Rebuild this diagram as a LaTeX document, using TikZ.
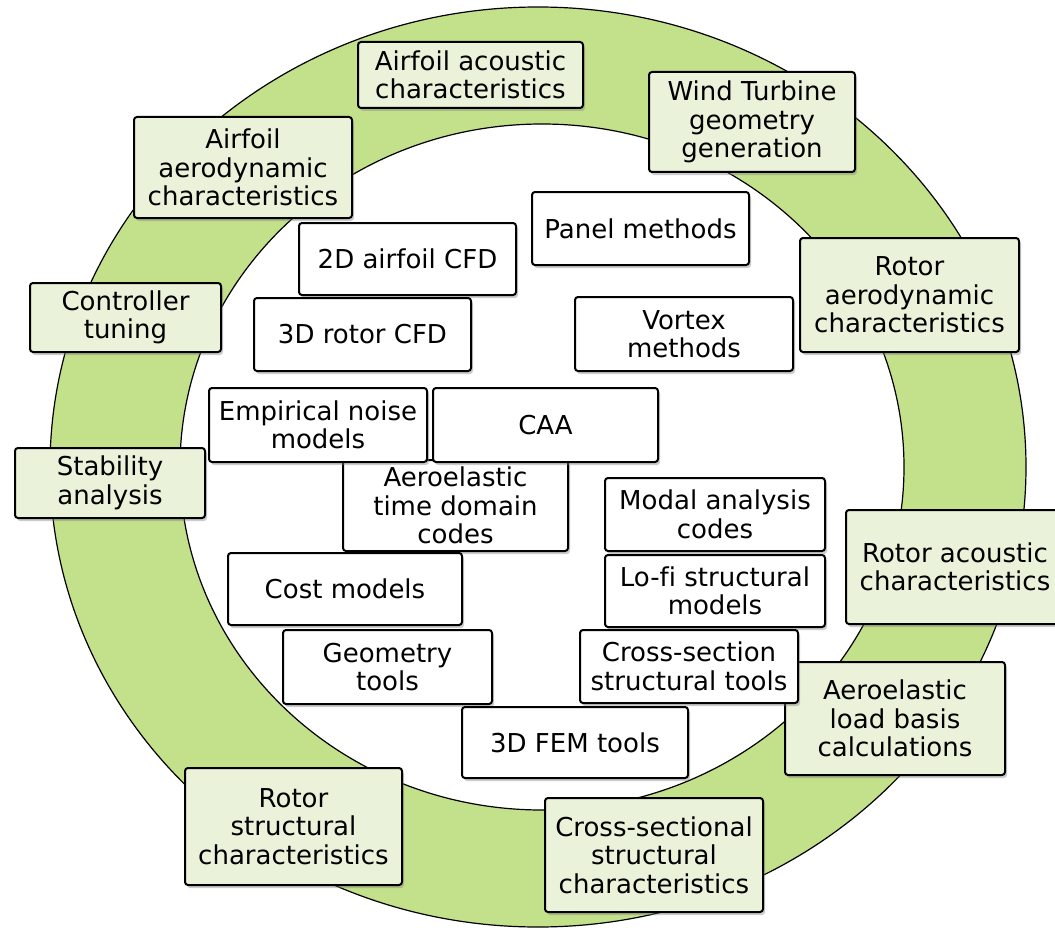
\documentclass[tikz,border=0pt]{standalone}
\usepackage{fontspec}
\setmainfont[Ligatures=NoCommon]{DejaVu Sans}
\usetikzlibrary{shadows}
\definecolor{ringgreen}{RGB}{195,224,138}
\definecolor{boxgreen}{RGB}{235,242,218}
\tikzstyle{wheelbox}=[draw=black, line width=2pt, rounded corners=3pt, inner sep=0pt, align=center, font=\fontsize{26}{28.5}\selectfont, drop shadow={shadow xshift=2pt, shadow yshift=-3pt, opacity=0.4}]
\tikzstyle{result}=[wheelbox, fill=boxgreen]
\tikzstyle{tool}=[wheelbox, fill=white]
\begin{document}
\begin{tikzpicture}[x=1pt, y=-1pt]
      \clip (0, 0) rectangle (1055, 931);
      \fill[white] (0, 0) rectangle (1055, 931);
      \filldraw[fill=ringgreen, draw=black, line width=1.2pt, even odd rule]
        (538, 467) ellipse [x radius=488pt, y radius=460pt]
        (542, 467) ellipse [x radius=362pt, y radius=343pt];
      \node[result, minimum width=225pt, minimum height=66pt] (airfoilac) at (470.5, 75) {Airfoil acoustic\\characteristics};
      \node[result, minimum width=206pt, minimum height=100pt] (wtgeom) at (752, 122) {Wind Turbine\\geometry\\generation};
      \node[result, minimum width=218pt, minimum height=101pt] (airfoilaero) at (243, 167.5) {Airfoil\\aerodynamic\\characteristics};
      \node[result, minimum width=191pt, minimum height=69pt] (controller) at (125.5, 317.5) {Controller\\tuning};
      \node[result, minimum width=219pt, minimum height=114pt] (rotoraero) at (909.5, 295) {Rotor\\aerodynamic\\characteristics};
      \node[result, minimum width=190pt, minimum height=70pt] (stability) at (110, 483) {Stability\\analysis};
      \node[result, minimum width=218pt, minimum height=114pt] (rotorac) at (955, 567) {Rotor acoustic\\characteristics};
      \node[result, minimum width=220pt, minimum height=113pt] (aeroload) at (895, 718.5) {Aeroelastic\\load basis\\calculations};
      \node[result, minimum width=218pt, minimum height=114pt] (xsecchar) at (654, 855) {Cross-sectional\\structural\\characteristics};
      \node[result, minimum width=217pt, minimum height=117pt] (rotorstruct) at (293.5, 826.5) {Rotor\\structural\\characteristics};
      \node[tool, minimum width=217pt, minimum height=73pt] (panel) at (640.5, 228.5) {Panel methods};
      \node[tool, minimum width=217pt, minimum height=72pt] (cfdtwo) at (407.5, 259) {2D airfoil CFD};
      \node[tool, minimum width=217pt, minimum height=73pt] (cfdthree) at (362.5, 334.5) {3D rotor CFD};
      \node[tool, minimum width=218pt, minimum height=74pt] (vortex) at (684, 334) {Vortex\\methods};
      \node[tool, minimum width=225pt, minimum height=91pt] (aerotime) at (455.5, 505.5) {Aeroelastic\\time domain\\codes};
      \node[tool, minimum width=218pt, minimum height=74pt] (empnoise) at (318, 425) {Empirical noise\\models};
      \node[tool, minimum width=225pt, minimum height=74pt] (caa) at (545.5, 425) {CAA};
      \node[tool, minimum width=234pt, minimum height=72pt] (cost) at (345, 589) {Cost models};
      \node[tool, minimum width=209pt, minimum height=74pt] (geomtools) at (387.5, 667) {Geometry\\tools};
      \node[tool, minimum width=226pt, minimum height=71pt] (femthree) at (575, 742.5) {3D FEM tools};
      \node[tool, minimum width=220pt, minimum height=73pt] (modal) at (715, 514.5) {Modal analysis\\codes};
      \node[tool, minimum width=220pt, minimum height=72pt] (lofi) at (715, 591) {Lo-fi structural\\models};
      \node[tool, minimum width=218pt, minimum height=73pt] (xsectools) at (689, 666.5) {Cross-section\\structural tools};
    \end{tikzpicture}
\end{document}
